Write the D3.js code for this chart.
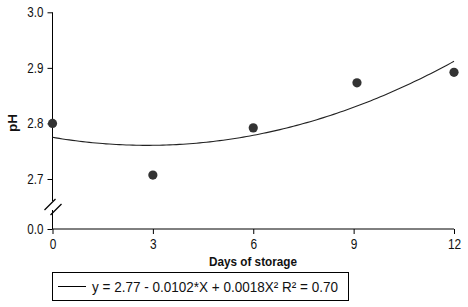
<!DOCTYPE html>
<html lang="en">
<head>
    <meta charset="UTF-8">
    <title>pH vs days of storage</title>
    <script src="https://d3js.org/d3.v7.min.js"></script>
    <style>
        body { margin: 0; background: #fff; }
        svg text { font-family: "Liberation Sans Narrow", "Arial Narrow", "Liberation Sans", sans-serif; fill: #111; }
        .tick text { font-size: 14px; }
        .axis path, .axis line { stroke: #000; }
        .title { font-weight: bold; font-size: 13.5px; }
    </style>
</head>
<body>
    <svg width="468" height="307"></svg>
    <script>
        // data
        const days = [0, 3, 6, 9.1, 12];
        const ph = [2.80, 2.707, 2.792, 2.873, 2.892];
        const xTicks = [0, 3, 6, 9, 12];
        const yTicks = [2.7, 2.8, 2.9, 3.0];
        // trend line coefficients from the legend: a + b*x + c*x^2
        const coef = [2.775, -0.0102, 0.0018];
        const legendText = "y = 2.77 - 0.0102*X + 0.0018X² R² = 0.70";

        const svg = d3.select("svg");
        const x0 = 52.5, x1 = 454, yBottom = 229;

        // squeeze text horizontally (no narrow font installed)
        function narrow(sel, f) {
            sel.each(function() {
                const w = this.getComputedTextLength();
                d3.select(this).attr("textLength", w * f).attr("lengthAdjust", "spacingAndGlyphs");
            });
        }

        const x = d3.scaleLinear().domain([0, 12]).range([x0, x1]);
        // upper part of the axis; 0.0 sits at the bottom after the break
        const yBase = 2.61;
        const y = d3.scaleLinear().domain([yBase, 3.0]).range([yBottom, 12.3]);

        // x axis
        const gx = svg.append("g")
            .attr("class", "axis")
            .attr("transform", `translate(0,${yBottom})`)
            .call(d3.axisBottom(x).tickValues(xTicks).tickSize(5).tickPadding(5).tickFormat(d3.format("d")));
        gx.select(".domain").attr("d", `M${x0},0H${x1}`);
        narrow(gx.selectAll(".tick text"), 0.85);

        // y axis (line drawn by hand because of the break)
        const gy = svg.append("g")
            .attr("class", "axis")
            .attr("transform", `translate(${x0},0)`)
            .call(d3.axisLeft(y).tickValues([yBase].concat(yTicks)).tickSize(5).tickPadding(4)
                .tickFormat(d => d === yBase ? "0.0" : d3.format(".1f")(d)));
        gy.select(".domain").remove();
        narrow(gy.selectAll(".tick text"), 0.83);
        gy.append("line").attr("x1", 0).attr("x2", 0).attr("y1", y(3.0)).attr("y2", 201).attr("stroke", "#000");
        gy.append("line").attr("x1", 0).attr("x2", 0).attr("y1", 210).attr("y2", yBottom).attr("stroke", "#000");
        // break marks
        [[-8, 210], [-2, 215]].forEach(([dx, by]) => {
            gy.append("line")
                .attr("x1", dx).attr("y1", by)
                .attr("x2", dx + 11).attr("y2", by - 11)
                .attr("stroke", "#555").attr("stroke-width", 1.2);
        });

        // trend line
        const curve = d3.range(0, 12.01, 0.1).map(d => [d, coef[0] + coef[1] * d + coef[2] * d * d]);
        svg.append("path")
            .datum(curve)
            .attr("fill", "none")
            .attr("stroke", "#222")
            .attr("stroke-width", 1.1)
            .attr("d", d3.line().x(d => x(d[0])).y(d => y(d[1])));

        // points
        svg.append("g").selectAll("circle")
            .data(days.map((d, i) => [d, ph[i]]))
            .enter().append("circle")
            .attr("cx", d => x(d[0]))
            .attr("cy", d => y(d[1]))
            .attr("r", 4.6)
            .attr("fill", "#333");

        // axis titles
        svg.append("text").attr("class", "title")
            .attr("x", 253).attr("y", 266)
            .attr("text-anchor", "middle")
            .attr("textLength", 88).attr("lengthAdjust", "spacingAndGlyphs")
            .text("Days of storage");
        svg.append("text").attr("class", "title")
            .attr("transform", `translate(17,123) rotate(-90)`)
            .attr("text-anchor", "middle")
            .text("pH");

        // legend
        const lg = svg.append("g");
        lg.append("rect").attr("x", 52.5).attr("y", 272.5).attr("width", 296).attr("height", 28)
            .attr("fill", "none").attr("stroke", "#000");
        lg.append("line").attr("x1", 58).attr("x2", 86).attr("y1", 286.5).attr("y2", 286.5)
            .attr("stroke", "#000");
        lg.append("text").attr("x", 92).attr("y", 292).style("font-size", "15px")
            .attr("textLength", 246).attr("lengthAdjust", "spacingAndGlyphs")
            .text(legendText);
    </script>
</body>
</html>
